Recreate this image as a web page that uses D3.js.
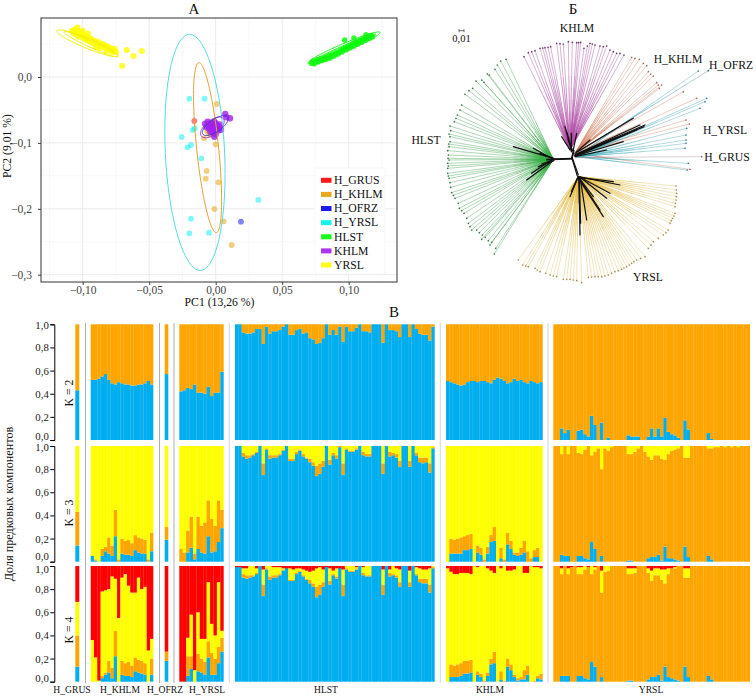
<!DOCTYPE html>
<html><head><meta charset="utf-8">
<script src="https://cdn.jsdelivr.net/npm/d3@7/dist/d3.min.js"></script>
<style>html,body{margin:0;padding:0;background:#fff}svg{display:block}text{font-family:"Liberation Serif",serif;fill:#111}</style>
</head><body><svg id="c" width="756" height="697"></svg>
<script>
// ---------- PCA data ----------
const pcaGroups=["H_GRUS","H_KHLM","H_OFRZ","H_YRSL","HLST","KHLM","YRSL"];
const pcaColors=["#ff0000","#e69f00","#0000ee","#00f0f0","#00ff00","#a020f0","#ffff00"];
const xTicksPca=[-0.10,-0.05,0,0.05,0.10];
const yTicksPca=[0,-0.1,-0.2,-0.3];
const ptsHGrus=[[-.0161,-.0668]];
const ptsHOfrz=[[.019,-.2195]];
const ptsHKhlm=[[.0008,-.041],[-.0056,-.0854],[-.0065,-.081],[-.0088,-.093],[0,-.1022],[-.0068,-.1426],[-.0075,-.1543],[.002,-.1598],[-.001,-.2003],[.006,-.219],[.012,-.2549],[-.004,-.088]];
const ptsHYrsl=[[-.0198,-.0329],[-.0083,-.0329],[-.0173,-.0804],[-.0158,-.0779],[-.0256,-.091],[-.0186,-.1032],[-.0211,-.1067],[-.0108,-.1234],[.032,-.1866],[-.0186,-.215],[-.0198,-.2372],[-.005,-.2362]];
const ptsKhlm=[[-.006,-.072],[-.005,-.078],[-.004,-.07],[-.003,-.075],[-.003,-.08],[-.002,-.072],[-.002,-.078],[-.001,-.068],[-.001,-.074],[-.001,-.082],[0,-.07],[0,-.076],[.001,-.079],[.001,-.073],[.002,-.075],[.002,-.081],[.003,-.077],[.003,-.072],[-.004,-.083],[-.006,-.068],[-.007,-.076],[-.008,-.071],[.004,-.08],[-.002,-.085],[0,-.087],[.0072,-.0561],[.0108,-.0627],[.008,-.061],[-.001,-.0906]];
const ptsHlst=[[.072,.021],[.073,.024],[.074,.02],[.075,.023],[.076,.026],[.077,.023],[.078,.025],[.079,.028],[.08,.025],[.081,.027],[.082,.03],[.083,.027],[.084,.03],[.085,.032],[.086,.029],[.087,.032],[.088,.035],[.089,.032],[.09,.035],[.091,.038],[.092,.035],[.093,.038],[.094,.041],[.095,.038],[.096,.042],[.097,.044],[.098,.041],[.099,.045],[.1,.047],[.101,.044],[.102,.048],[.103,.05],[.104,.047],[.105,.051],[.106,.053],[.107,.05],[.108,.054],[.109,.056],[.11,.053],[.111,.057],[.112,.059],[.113,.056],[.114,.06],[.115,.062],[.116,.059],[.117,.063],[.118,.061],[.097,.056],[.104,.059],[.113,.064]];
const ptsYrsl=[[-.108,.07],[-.107,.066],[-.106,.072],[-.105,.068],[-.105,.064],[-.104,.071],[-.104,.075],[-.103,.066],[-.103,.061],[-.102,.069],[-.102,.063],[-.101,.066],[-.1,.06],[-.1,.065],[-.1,.07],[-.099,.058],[-.099,.063],[-.098,.061],[-.097,.056],[-.097,.06],[-.096,.058],[-.096,.066],[-.095,.054],[-.095,.059],[-.094,.056],[-.093,.052],[-.093,.057],[-.092,.054],[-.091,.05],[-.091,.055],[-.09,.045],[-.09,.052],[-.089,.048],[-.088,.053],[-.087,.044],[-.086,.047],[-.085,.05],[-.084,.045],[-.083,.048],[-.082,.04],[-.081,.046],[-.08,.041],[-.079,.044],[-.078,.038],[-.076,.043],[-.075,.038],[-.077,.04],[-.0669,.041],[-.0619,.0319],[-.0556,.0395],[-.0703,.0172]];
// ellipse: group index, centre x,y, conjugate semi-axes ax,ay,bx,by
const ellipses=[
 [3,-.0156,-.1144,-.004,.1791,.0223,0],
 [1,-.0061,-.1073,-.0065,.129,.0083,0],
 [5,-.0025,-.0765,.0085,.0125,-.0025,.0095],
 [2,-.0003,-.0737,.0095,.0125,-.002,.0085],
 [6,-.0963,.0511,-.0233,.0192,.0014,.007],
 [6,-.094,.05,-.02,.0185,.0008,.0045],
 [4,.0965,.0445,.0271,.0233,.0012,-.0056],
 [4,.0965,.044,.024,.021,.0007,-.0035]];
// ---------- tree data (root at 0,0; 15 units = 0,01) ----------
const treeHubs={hlst:[-50,2],khlm:[0,30],hkhlm:[15,20],hyrsl:[20,10],hofrz:[25,25],hgrus:[15,8],yrsl:[25,-50]};
const tipsHlst=[[-192,302],[-208,297],[-218,285],[-225,272],[-242,255],[-248,258],[-265,240],[-258,233],[-282,237],[-292,215],[-303,208],[-315,197],[-325,165],[-330,150],[-338,135],[-342,125],[-347,115],[-360,102],[-358,88],[-363,78],[-360,70],[-360,55],[-364,48],[-363,40],[-367,28],[-365,15],[-366,5],[-363,0],[-367,-10],[-365,-18],[-367,-25],[-367,-40],[-365,-48],[-363,-55],[-360,-68],[-358,-82],[-355,-98],[-350,-106],[-345,-115],[-335,-130],[-332,-145],[-325,-152],[-318,-160],[-310,-175],[-305,-190],[-300,-200],[-295,-210],[-280,-210],[-272,-218],[-263,-225],[-254,-232],[-265,-238],[-245,-242],[-235,-247],[-240,-255],[-223,-265],[-227,-282]];
const tipsKhlm=[[-138,310],[-125,322],[-115,325],[-105,328],[-90,335],[-82,336],[-75,337],[-66,338],[-58,340],[-40,350],[-30,349],[-20,348],[-5,355],[7,353],[20,352],[26,352],[32,353],[42,335],[52,342],[60,350],[67,348],[75,345],[90,342],[100,340],[110,342],[120,330],[130,325],[140,320],[150,320],[162,315]];
const tipsHKhlm=[[185,308],[195,305],[208,302],[220,290],[230,283],[235,265],[242,258],[250,252],[260,232],[265,225],[275,225],[268,215],[380,185],[340,205],[348,120],[358,108],[360,-28]];
const tipsHYrsl=[[385,267],[410,185],[405,175],[390,155],[350,95],[348,75],[348,60],[348,50],[345,35],[355,-10],[352,-30]];
const tipsHOfrz=[[415,268]];
const tipsHGrus=[[395,10]];
const tipsYrsl=[[-155,-300],[-142,-315],[-133,-318],[-125,-320],[-105,-325],[-98,-330],[-90,-335],[-73,-340],[-60,-345],[-50,-348],[-40,-350],[-20,-358],[-10,-358],[0,-358],[10,-360],[20,-362],[35,-368],[55,-352],[65,-351],[75,-350],[85,-350],[95,-350],[105,-348],[115,-345],[125,-340],[135,-335],[145,-332],[155,-328],[162,-324],[170,-320],[178,-315],[185,-310],[192,-305],[200,-300],[212,-295],[225,-290],[235,-265],[243,-255],[250,-245],[265,-235],[280,-225],[288,-218],[295,-210],[300,-190],[304,-182],[308,-175],[312,-168],[315,-160],[315,-140],[316,-130],[318,-120],[319,-110],[320,-100],[319,-90],[318,-78]];
const backbone=[[-70,2,5,5],[-70,0,5,3],[-50,3,5,4],[5,5,10,30],[6,3,12,28],[5,8,22,-48],[7,6,25,-45],[-50,2,-110,35],[-48,4,-90,20],[-50,5,-170,40],[-60,-3,-115,-40],[-55,-5,-130,-60],[-48,-2,-95,-20],[-52,0,-85,-12],
[5,25,-15,100],[10,30,20,80],[0,30,-25,70],[8,28,-6,62],[6,30,-10,85],[4,25,4,80],
[15,15,225,105],[15,13,222,100],[16,16,210,105],[18,12,200,90],[14,14,140,68],[15,20,190,125],[20,25,60,60],[15,10,110,30],[15,12,160,55],[15,14,100,50],
[25,-50,150,-75],[25,-52,130,-65],[25,-55,100,-170],[27,-55,90,-150],[26,-52,70,-110],[27,-55,30,-225],[28,-55,32,-190],[27,-50,28,-130],[25,-50,0,-110],[24,-50,4,-95],[30,-50,50,-180],[30,-52,120,-100],[30,-52,110,-115]];
// share of each branch that shows the saturated clade colour near its node
const cladeFade={hlst:.3,khlm:.55,hkhlm:.45,hyrsl:.5,hofrz:.5,hgrus:.3,yrsl:.55};
// ---------- admixture data (cumulative tops, %): blue, orange, yellow ----------
const hGrusK2=[43],hGrusK3=[14,43],hGrusK4=[13,40,69];
const hOfrzK2=[57],hOfrzK3=[19,30],hOfrzK4=[18,26,26];
const hKhlmK2Blue=[52,52,53,55,57,52,49,48,50,49,48,48,47,47,48,48,49,51,48];
const hKhlmK3Blue=[5,1,0,5,9,7,5,22,0,7,6,6,5,10,8,7,7,0,9];
const hKhlmK3Orange=[5,2,0,11,13,21,14,45,2,20,18,19,16,23,21,20,19,2,25];
const hKhlmK4Blue=[0,0,0,3,6,8,3,22,0,6,5,5,4,9,8,7,6,0,6];
const hKhlmK4Orange=[0,0,0,5,8,18,12,44,0,18,16,17,14,21,19,18,16,0,20];
const hKhlmK4Yellow=[36,21,1,78,79,80,91,89,55,90,93,83,77,77,90,80,82,27,37];
const hYrslK2Blue=[42,43,45,44,48,41,41,40,46,38,41,41,59];
const hYrslK3Blue=[0,0,8,12,2,11,8,7,22,8,9,17,29];
const hYrslK3Orange=[11,8,27,39,7,39,31,34,53,37,31,53,45];
const hYrslK4Blue=[0,0,5,11,0,9,8,6,21,6,6,16,26];
const hYrslK4Orange=[0,0,22,22,0,24,20,17,35,25,20,30,38];
const hYrslK4Yellow=[0,0,38,58,10,60,37,37,86,50,40,86,44];
const hlstK2Blue=[100,100,93,92,92,93,96,96,83,98,92,94,94,95,98,100,91,91,95,96,92,93,88,87,83,84,88,100,91,95,91,98,85,98,94,94,97,100,94,94,93,100,100,100,84,100,95,95,94,89,100,100,89,100,96,92,91,91,86,98];
const hlstK3Blue=[100,100,91,89,90,92,94,100,75,97,89,90,90,92,96,100,87,87,93,96,91,89,86,83,74,76,82,100,84,92,89,99,75,97,95,95,97,100,92,91,91,100,100,100,76,100,91,92,90,82,100,100,82,100,92,86,85,86,77,98];
const hlstK3Orange=[100,100,94,92,92,93,95,100,85,98,92,92,92,93,97,100,89,89,95,97,93,90,89,86,83,85,87,100,88,94,92,100,85,98,96,96,98,100,95,93,93,100,100,100,85,100,95,94,93,87,100,100,87,100,94,90,90,90,85,99];
const hlstK4Blue=[100,100,90,89,90,91,93,100,74,97,88,90,90,92,96,100,87,87,93,95,91,88,85,82,73,75,82,100,84,92,89,99,74,97,95,95,97,100,92,91,91,100,100,100,75,100,91,92,90,82,100,100,82,100,92,86,85,85,77,98];
const hlstK4Orange=[100,100,93,92,92,92,94,100,84,98,91,92,92,93,97,100,88,88,94,96,92,89,88,85,82,84,86,99,87,93,91,98,84,98,96,96,98,100,94,92,92,100,100,100,84,100,94,93,92,86,100,100,86,100,93,89,89,89,84,99];
const hlstK4Yellow=[99,99,98,98,100,100,98,100,97,100,100,99,99,99,98,98,98,97,98,98,97,96,95,96,98,99,97,99,98,96,98,98,97,100,100,100,99,100,99,100,100,100,100,100,97,100,97,100,98,97,100,100,96,100,99,98,97,97,98,100];
const khlmK2Blue=[51,50,49,48,47,48,50,51,51,50,51,51,50,49,52,54,53,51,49,50,53,51,52,50,49,51,50,49,50];
const khlmK3Blue=[0,7,7,7,7,10,10,11,0,8,6,0,7,17,18,0,3,0,15,11,6,5,6,8,0,0,4,4,0];
const khlmK3Orange=[0,20,19,20,21,22,23,24,0,14,12,2,13,23,30,0,12,2,25,18,8,8,12,18,9,3,10,12,0];
const khlmK4Blue=[0,4,4,4,5,7,7,8,0,6,4,0,5,15,16,0,2,0,13,10,4,1,2,2,6,0,0,3,2];
const khlmK4Orange=[0,15,14,15,16,18,18,19,0,9,7,1,8,20,26,0,9,1,20,15,6,3,4,10,14,0,1,5,7];
const khlmK4Yellow=[98,95,93,93,94,94,94,93,100,99,100,100,98,96,94,100,98,100,96,96,97,100,100,94,94,100,99,99,98];
const yrslK2Blue=[0,0,10,6,9,0,0,8,9,5,3,21,13,0,15,0,2,0,0,0,0,0,4,3,3,3,0,0,3,10,3,10,3,19,7,5,4,2,0,17,9,0,0,0,0,0,6,1,0,0,0,0,0,0,0,0,0,0,0];
const yrslK3Blue=[0,0,6,5,5,0,0,5,5,3,2,17,11,0,5,0,0,0,0,0,0,0,1,1,0,0,0,0,3,4,4,6,1,13,3,3,2,1,0,13,4,0,0,0,0,0,5,2,0,0,0,0,0,0,0,0,0,0,0];
const yrslK3Orange=[100,100,93,100,93,100,100,94,93,97,100,92,95,98,80,98,96,99,100,100,100,100,93,93,95,98,100,95,91,88,92,92,89,88,93,96,97,98,100,90,90,100,100,100,100,100,98,98,99,99,100,99,100,99,100,99,100,100,100];
const yrslK4Blue=[0,0,5,5,5,0,0,5,5,3,2,17,13,0,4,0,0,0,0,0,0,0,1,1,0,0,0,0,2,4,4,6,1,13,4,3,2,1,0,13,4,0,0,0,0,0,5,2,0,0,0,0,0,0,0,0,0,0,0];
const yrslK4Orange=[100,100,93,100,93,99,100,93,93,97,99,93,97,100,77,95,96,100,100,100,100,100,93,93,94,100,100,100,94,87,92,92,88,85,93,98,98,100,100,90,90,100,100,100,100,100,100,100,100,100,100,100,100,100,100,100,100,100,100];
const yrslK4Yellow=[100,100,98,100,98,99,100,99,99,100,99,100,99,100,96,100,100,100,100,100,100,100,98,98,98,100,100,100,98,96,98,98,97,97,98,98,99,100,100,98,98,100,100,100,100,100,100,100,100,100,100,100,100,100,100,100,100,100,100];
const yTicksBar=[0,.2,.4,.6,.8,1];
const kNames=["K = 2","K = 3","K = 4"];
const groupLabels=["H_GRUS","H_KHLM","H_OFRZ","H_YRSL","HLST","KHLM","YRSL"];
const C={blue:"#00aeef",orange:"#ffa500",yellow:"#ffff00",red:"#ff0000"};
const comma=s=>s.replace(".",",");
const FONT=11.7;
const svg=d3.select("#c");
const label=(x,y,t,fs,o={})=>{const e=svg.append("text").attr("x",x).attr("y",y).attr("font-size",fs).attr("text-anchor",o.anchor||"middle").text(t);
 if(o.rot)e.attr("transform",`rotate(-90 ${x} ${y})`);if(o.fill)e.style("fill",o.fill);return e;};

// ---------- Panel A ----------
const L=41,R=397,T=18,B=282;
const px=d3.scaleLinear().domain([-.1,.1]).range([82.7,348.7]);
const py=d3.scaleLinear().domain([0,-.3]).range([77,274.7]);
const A=svg.append("g");
A.append("rect").attr("x",L).attr("y",T).attr("width",R-L).attr("height",B-T).attr("fill","#fff");
const xMinor=[-.125,-.075,-.025,.025,.075,.125],yMinor=[.05,-.05,-.15,-.25];
A.selectAll(".xm").data(xMinor).join("line").attr("x1",px).attr("x2",px).attr("y1",T).attr("y2",B).attr("stroke","#f5f5f5").attr("stroke-width",.6);
A.selectAll(".ym").data(yMinor).join("line").attr("x1",L).attr("x2",R).attr("y1",py).attr("y2",py).attr("stroke","#f5f5f5").attr("stroke-width",.6);
A.selectAll(".xg").data(xTicksPca).join("line").attr("x1",px).attr("x2",px).attr("y1",T).attr("y2",B).attr("stroke","#ececec").attr("stroke-width",1);
A.selectAll(".yg").data(yTicksPca).join("line").attr("x1",L).attr("x2",R).attr("y1",py).attr("y2",py).attr("stroke","#ececec").attr("stroke-width",1);
const ptSets=[ptsHGrus,ptsHKhlm,ptsHOfrz,ptsHYrsl,ptsHlst,ptsKhlm,ptsYrsl];
ptSets.forEach((s,i)=>{A.append("g").selectAll("circle").data(s).join("circle").attr("cx",d=>px(d[0])).attr("cy",d=>py(d[1])).attr("r",i==6?3:(i==4?2.8:(i==5?3.2:2.9))).attr("fill",pcaColors[i]).attr("fill-opacity",i==5||i==4||i==6?.8:.5);});
const elColor=["#ff0000","#e6a030","#3a3ac0","#55dde0","#22ee22","#a030d0","#f5f000"];
const line=d3.line().curve(d3.curveLinearClosed);
ellipses.forEach(e=>{const ts=d3.range(0,2*Math.PI,.05);
 A.append("path").attr("d",line(ts.map(t=>[px(e[1]+e[3]*Math.cos(t)+e[5]*Math.sin(t)),py(e[2]+e[4]*Math.cos(t)+e[6]*Math.sin(t))]))).attr("fill","none").attr("stroke",elColor[e[0]]).attr("stroke-width",1);});
A.append("rect").attr("x",L).attr("y",T).attr("width",R-L).attr("height",B-T).attr("fill","none").attr("stroke","#333").attr("stroke-width",1);
const axX=A.append("g").attr("transform",`translate(0,${B})`).call(d3.axisBottom(px).tickValues(xTicksPca).tickSize(3).tickFormat(d=>comma(d3.format(".2f")(d))));
const axY=A.append("g").attr("transform",`translate(${L},0)`).call(d3.axisLeft(py).tickValues(yTicksPca).tickSize(3).tickPadding(6).tickFormat(d=>comma(d3.format(".1f")(d))));
[axX,axY].forEach(a=>{a.select(".domain").remove();a.selectAll("line").attr("stroke","#444");a.selectAll("text").attr("font-size",11.5).style("fill","#444").style("font-family",'"Liberation Serif",serif');});
axX.selectAll("text").attr("y",11.5).attr("dy",0);
label(219.5,305.5,"PC1 (13,26 %)",FONT);
label(11,146,"PC2 (9,01 %)",FONT,{rot:true});
label(194,14,"А",15);
// legend
const lg=A.append("g");
lg.append("rect").attr("x",315).attr("y",168).attr("width",70).attr("height",106).attr("fill","#fff").attr("stroke","#f0f0f0").attr("stroke-width",.6);
const legY=d3.scalePoint().domain(pcaGroups).range([180.3,265]);
pcaGroups.forEach((g,i)=>{lg.append("rect").attr("x",321).attr("y",legY(g)-2.5).attr("width",10.5).attr("height",5).attr("fill",pcaColors[i]).attr("fill-opacity",.9);
 lg.append("text").attr("x",334).attr("y",legY(g)+3.8).attr("font-size",FONT).text(g);});

// ---------- Panel Б ----------
const tx=d3.scaleLinear().domain([-510,0]).range([400,570]);
const ty=d3.scaleLinear().domain([0,480]).range([160,0]);
const T2=svg.append("g");
const tipSets=[[tipsHlst,treeHubs.hlst,"#3da24a","#3d7a45",cladeFade.hlst,"#2fb23f"],[tipsKhlm,treeHubs.khlm,"#a2479f","#6f3a70",cladeFade.khlm,"#b2409f"],[tipsHKhlm,treeHubs.hkhlm,"#cf8a72","#a56a5a",cladeFade.hkhlm,"#d87a50"],[tipsHYrsl,treeHubs.hyrsl,"#46a8b8","#3a7f8c",cladeFade.hyrsl,"#30a8b8"],[tipsHOfrz,treeHubs.hofrz,"#3f8eaa","#2f6a80",cladeFade.hofrz,"#2f8eaa"],[tipsHGrus,treeHubs.hgrus,"#a88a9a","#777",cladeFade.hgrus,"#a88a9a"],[tipsYrsl,treeHubs.yrsl,"#e2c468","#a89050",cladeFade.yrsl,"#eab52c"]];
const fadeSteps=[.45,.65,.85,1.05,1.25];
tipSets.forEach(([tips,hub,col,dot,fade,sat])=>{const g=T2.append("g");
 g.append("g").selectAll("line").data(tips).join("line").attr("x1",tx(hub[0])).attr("y1",ty(hub[1])).attr("x2",d=>tx(d[0])).attr("y2",d=>ty(d[1])).attr("stroke",col).attr("stroke-width",.7).attr("stroke-opacity",.6);
 fadeSteps.forEach(st=>{const f=fade*st,mid=d=>[hub[0]+(d[0]-hub[0])*f,hub[1]+(d[1]-hub[1])*f];
  g.append("g").selectAll("line").data(tips).join("line").attr("x1",tx(hub[0])).attr("y1",ty(hub[1])).attr("x2",d=>tx(mid(d)[0])).attr("y2",d=>ty(mid(d)[1])).attr("stroke",sat).attr("stroke-width",.8).attr("stroke-opacity",.16);});
 g.append("g").selectAll("circle").data(tips).join("circle").attr("cx",d=>tx(d[0])).attr("cy",d=>ty(d[1])).attr("r",.85).attr("fill",dot);});
T2.append("g").selectAll("line").data(backbone).join("line").attr("x1",d=>tx(d[0])).attr("y1",d=>ty(d[1])).attr("x2",d=>tx(d[2])).attr("y2",d=>ty(d[3])).attr("stroke","#111").attr("stroke-width",1.2).attr("stroke-linecap","round");
// scale bar: 15 tree units = 0,01
const sb=[-333,-318],sbY=388;
T2.append("line").attr("x1",tx(sb[0])).attr("x2",tx(sb[1])).attr("y1",ty(sbY)).attr("y2",ty(sbY)).attr("stroke","#333").attr("stroke-width",.7);
sb.forEach(v=>T2.append("line").attr("x1",tx(v)).attr("x2",tx(v)).attr("y1",ty(sbY)-1.5).attr("y2",ty(sbY)+1.5).attr("stroke","#333").attr("stroke-width",.7));
label(461.5,42,"0,01",10.5);
label(573,14,"Б",15);
[["KHLM",577,32],["H_KHLM",678,63],["H_OFRZ",731,69],["H_YRSL",725,134],["H_GRUS",727,161],["HLST",426,144],["YRSL",648,281]].forEach(d=>label(d[1],d[2],d[0],FONT));

// ---------- Panel В ----------
label(394,317,"В",15);
const spans=[[75.3,79.3],[90.7,153.3],[164.7,168.3],[179.3,223.7],[235,434.7],[446,542.7],[553.3,750]];
const rows=[[324.3,440],[446,561.7],[566,681.7]];
const seps=[85.5,159.5,174,229.3,440.3,548];
const P=svg.append("g");
seps.forEach((s,i)=>P.append("line").attr("x1",s).attr("x2",s).attr("y1",323).attr("y2",683).attr("stroke",i<3?"#aab0b4":"#d4dce4").attr("stroke-width",i<3?1:1.2));
const rowData=[
 [[[hGrusK2[0]],[100],[100]],[hKhlmK2Blue,null,null],[[hOfrzK2[0]],[100],[100]],[hYrslK2Blue,null,null],[hlstK2Blue,null,null],[khlmK2Blue,null,null],[yrslK2Blue,null,null]],
 [[[hGrusK3[0]],[hGrusK3[1]],[100]],[hKhlmK3Blue,hKhlmK3Orange,null],[[hOfrzK3[0]],[hOfrzK3[1]],[100]],[hYrslK3Blue,hYrslK3Orange,null],[hlstK3Blue,hlstK3Orange,null],[khlmK3Blue,khlmK3Orange,null],[yrslK3Blue,yrslK3Orange,null]],
 [[[hGrusK4[0]],[hGrusK4[1]],[hGrusK4[2]]],[hKhlmK4Blue,hKhlmK4Orange,hKhlmK4Yellow],[[hOfrzK4[0]],[hOfrzK4[1]],[hOfrzK4[2]]],[hYrslK4Blue,hYrslK4Orange,hYrslK4Yellow],[hlstK4Blue,hlstK4Orange,hlstK4Yellow],[khlmK4Blue,khlmK4Orange,khlmK4Yellow],[yrslK4Blue,yrslK4Orange,yrslK4Yellow]]];
const zeroDy=["-0.05em","-0.23em","-0.05em"],oneDy=["0.42em","0.42em","0.58em"];
rows.forEach((r,ri)=>{
 const y=d3.scaleLinear().domain([0,1]).range([r[1],r[0]]);
 const g=P.append("g");
 rowData[ri].forEach((sets,gi)=>{
  const blue=sets[0],orange=sets[1],yellow=sets[2],n=blue.length;
  const x=d3.scaleLinear().domain([0,n]).range(spans[gi]);
  const bw=(spans[gi][1]-spans[gi][0])/n;
  const parts=[];
  d3.range(n).forEach(i=>{
   const b=blue[i]/100,o=orange?orange[i]/100:1,yl=yellow?yellow[i]/100:1;
   parts.push([i,0,b,C.blue],[i,b,o,C.orange],[i,o,yl,C.yellow],[i,yl,1,C.red]);
  });
  g.append("g").selectAll("rect").data(parts.filter(p=>p[2]>p[1])).join("rect")
   .attr("x",d=>x(d[0])).attr("width",d=>bw+(d[0]<n-1?.2:0)).attr("y",d=>y(d[2])).attr("height",d=>y(d[1])-y(d[2])).attr("fill",d=>d[3]);
 });
 const ax=svg.append("g").attr("transform","translate(54.3,0)").call(d3.axisLeft(y).tickValues(yTicksBar).tickSize(4).tickPadding(1.5).tickFormat(d=>comma(d3.format(".1f")(d))));
 ax.select(".domain").attr("stroke","#000").attr("stroke-width",1);
 ax.selectAll("line").attr("stroke","#000");
 ax.selectAll("text").attr("font-size",10.8).style("font-family",'"Liberation Serif",serif').style("fill","#222")
  .attr("dy",d=>d===0?zeroDy[ri]:d===1?oneDy[ri]:"0.32em");
 label(72.5,[393,513,630][ri],kNames[ri],FONT,{rot:true});
});
label(13,504,"Доля предковых компонентов",12.2,{rot:true});
[[72,0],[120,1],[165,2],[207,3],[326,4],[490,5],[651,6]].forEach(d=>label(d[0],692.5,groupLabels[d[1]],9.6));
</script></body></html>
